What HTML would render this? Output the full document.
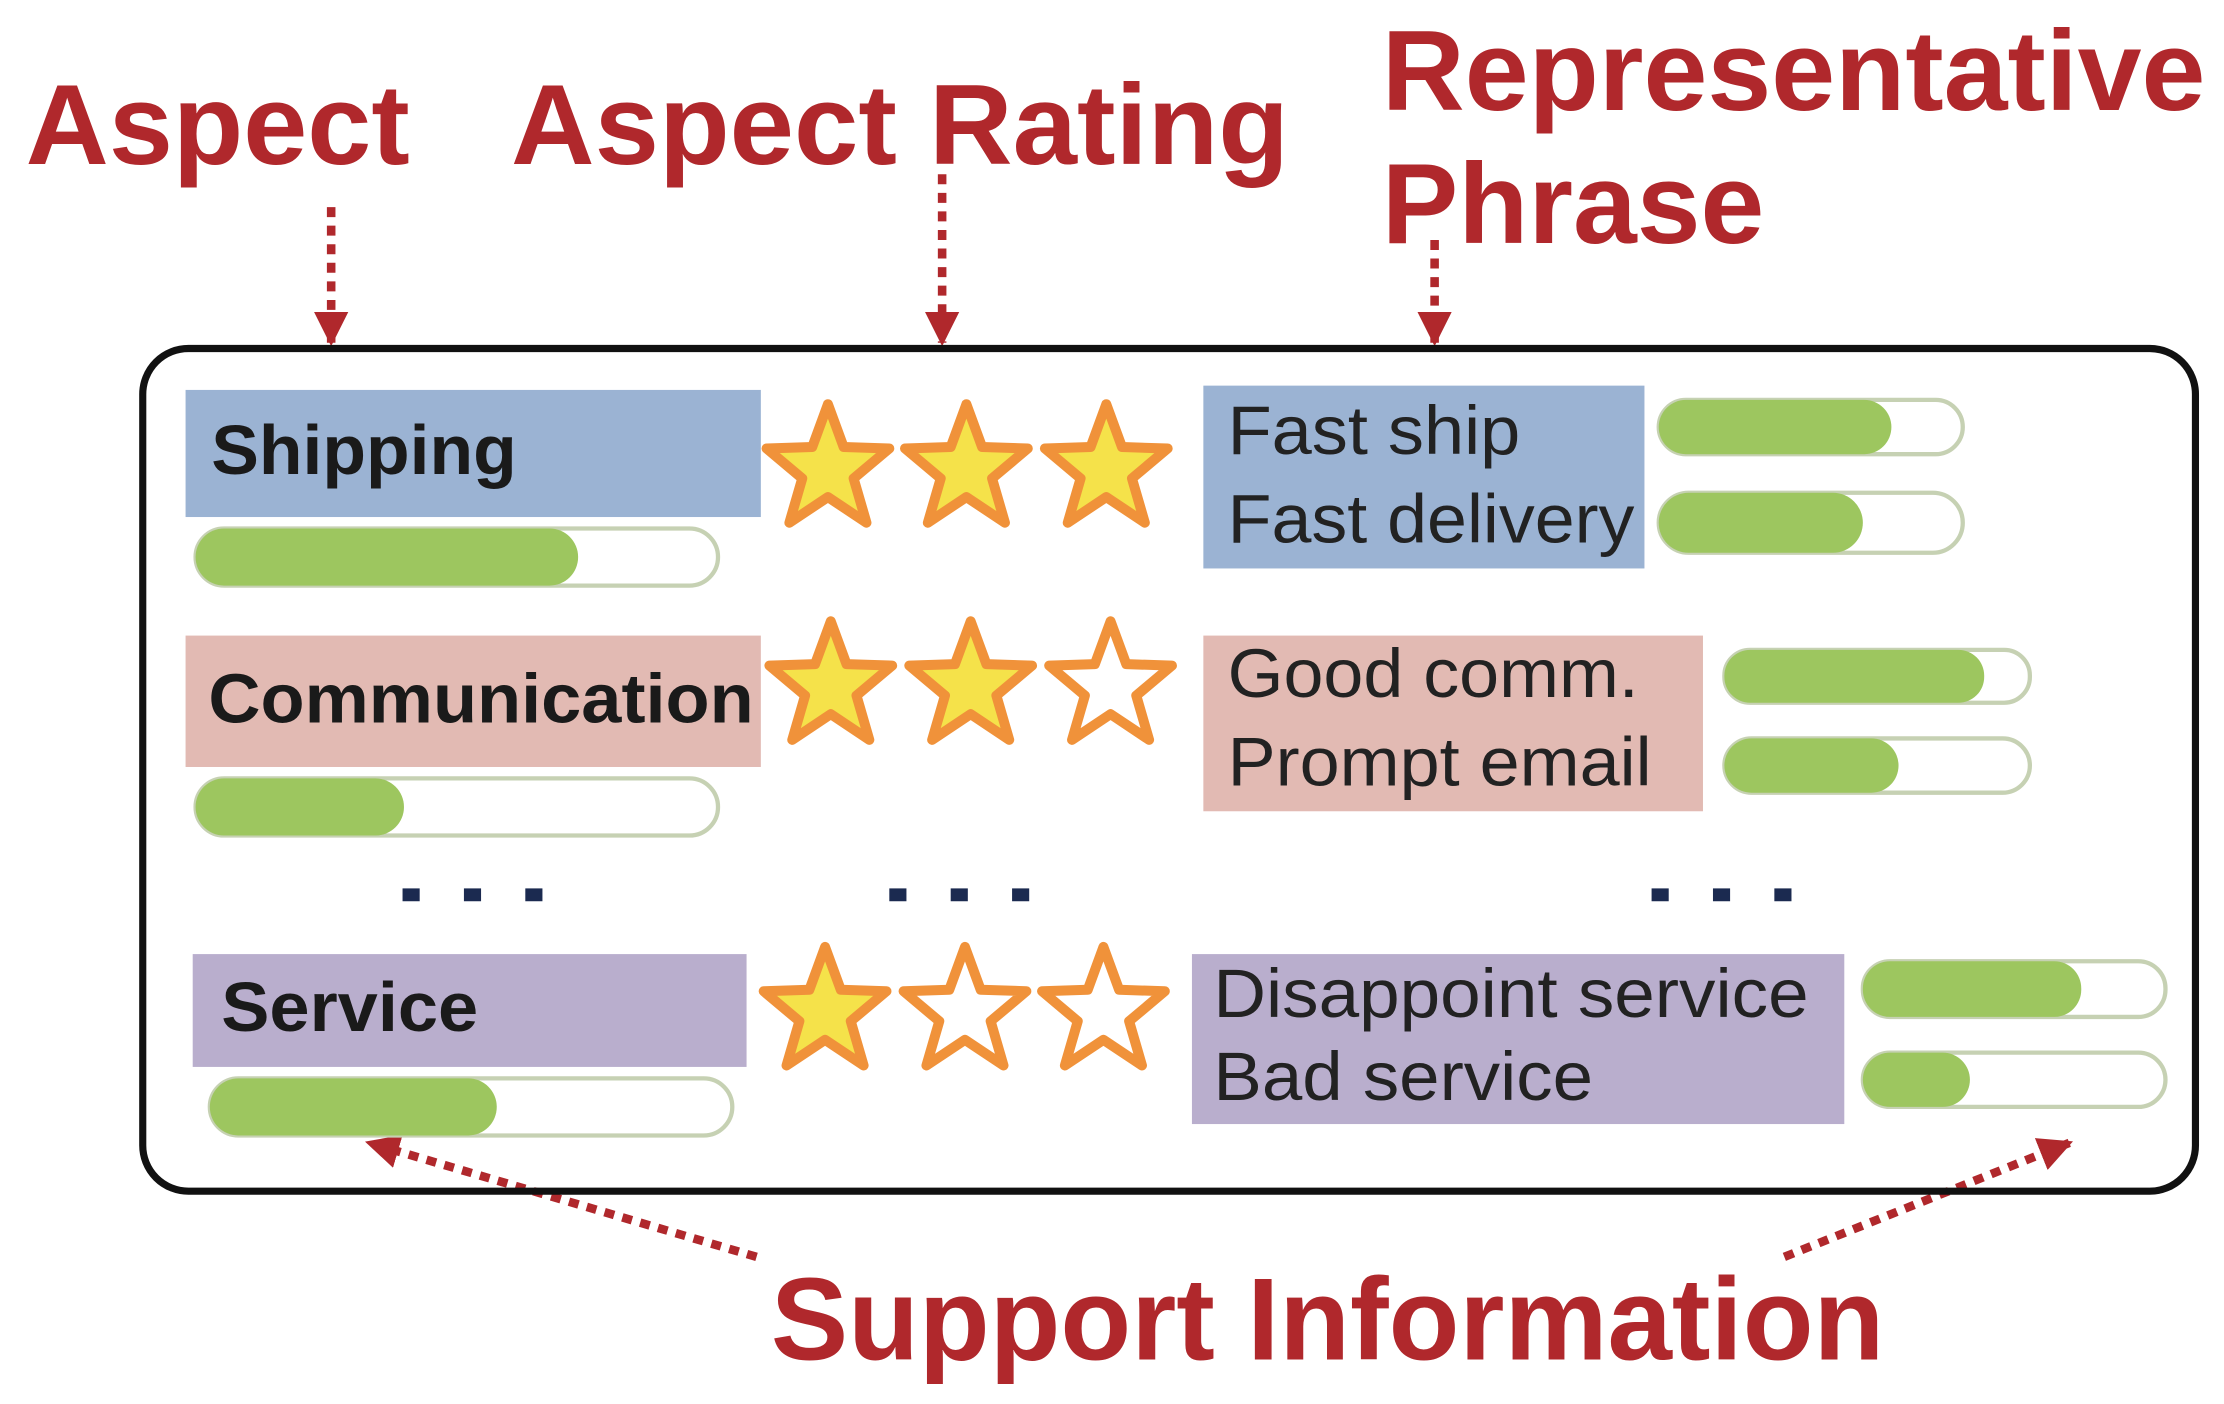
<!DOCTYPE html>
<html><head><meta charset="utf-8"><style>
html,body{margin:0;padding:0;background:#fff;}
svg{display:block;}
text{font-family:"Liberation Sans",Arial,sans-serif;}
.red{fill:#b0282c;font-weight:bold;}
.lbl{font-weight:bold;fill:#1a1a1a;font-size:49px;}
.ph{fill:#222;font-size:48px;}
</style></head><body>
<svg width="2224" height="1404" viewBox="0 0 1558 983" preserveAspectRatio="none" xmlns="http://www.w3.org/2000/svg">
<defs>
<marker id="ah" viewBox="0 0 10 10" refX="9" refY="5" markerWidth="4" markerHeight="4" orient="auto">
<path d="M0,0 L10,5 L0,10 z" fill="#b0282c"/></marker>
<g id="sf"><polygon points="0,-45 11,-15 43,-14 18,7 27,38 0,20 -27,38 -18,7 -43,-14 -11,-15" fill="#f5e24a" stroke="#f0923a" stroke-width="7" stroke-linejoin="round"/></g>
<g id="se"><polygon points="0,-45 11,-15 43,-14 18,7 27,38 0,20 -27,38 -18,7 -43,-14 -11,-15" fill="#fff" stroke="#f0923a" stroke-width="7" stroke-linejoin="round"/></g>
</defs>
<rect width="1558" height="983" fill="#fff"/>
<text class="red" x="18" y="115" font-size="80" textLength="269" lengthAdjust="spacingAndGlyphs">Aspect</text>
<text class="red" x="358" y="115" font-size="80" textLength="545" lengthAdjust="spacingAndGlyphs">Aspect Rating</text>
<text class="red" x="968" y="77" font-size="80" textLength="577" lengthAdjust="spacingAndGlyphs">Representative</text>
<text class="red" x="968" y="170" font-size="80" textLength="268" lengthAdjust="spacingAndGlyphs">Phrase</text>
<g stroke="#b0282c" stroke-width="6" stroke-dasharray="7,6" fill="none" marker-end="url(#ah)">
<line x1="232" y1="145" x2="232" y2="240"/>
<line x1="660" y1="122" x2="660" y2="240"/>
<line x1="1005" y1="168" x2="1005" y2="240"/>
<line x1="530" y1="880" x2="258" y2="800"/>
<line x1="1250" y1="880" x2="1450" y2="800"/>
</g>
<rect x="100" y="244" width="1438" height="590" rx="32" fill="none" stroke="#111" stroke-width="5"/>
<rect x="130" y="273" width="403" height="89" fill="#9bb3d3"/>
<text class="lbl" x="148" y="332" textLength="214" lengthAdjust="spacingAndGlyphs">Shipping</text>
<rect x="137" y="370" width="366" height="40" rx="20" fill="#fff" stroke="#c6d1b3" stroke-width="3"/>
<rect x="137" y="370" width="268" height="40" rx="20" fill="#9dc65f"/>
<use href="#sf" x="580" y="328"/><use href="#sf" x="677" y="328"/><use href="#sf" x="775" y="328"/>
<rect x="843" y="270" width="309" height="128" fill="#9bb3d3"/>
<text class="ph" x="860" y="318" textLength="205" lengthAdjust="spacingAndGlyphs">Fast ship</text>
<text class="ph" x="860" y="380" textLength="285" lengthAdjust="spacingAndGlyphs">Fast delivery</text>
<rect x="1162" y="280" width="213" height="38" rx="19" fill="#fff" stroke="#c6d1b3" stroke-width="3"/>
<rect x="1162" y="280" width="163" height="38" rx="19" fill="#9dc65f"/>
<rect x="1162" y="345" width="213" height="42" rx="21" fill="#fff" stroke="#c6d1b3" stroke-width="3"/>
<rect x="1162" y="345" width="143" height="42" rx="21" fill="#9dc65f"/>
<rect x="130" y="445" width="403" height="92" fill="#e2bab3"/>
<text class="lbl" x="146" y="506" textLength="382" lengthAdjust="spacingAndGlyphs">Communication</text>
<rect x="137" y="545" width="366" height="40" rx="20" fill="#fff" stroke="#c6d1b3" stroke-width="3"/>
<rect x="137" y="545" width="146" height="40" rx="20" fill="#9dc65f"/>
<use href="#sf" x="582" y="480"/><use href="#sf" x="680" y="480"/><use href="#se" x="778" y="480"/>
<rect x="843" y="445" width="350" height="123" fill="#e2bab3"/>
<text class="ph" x="860" y="488" textLength="288" lengthAdjust="spacingAndGlyphs">Good comm.</text>
<text class="ph" x="860" y="550" textLength="297" lengthAdjust="spacingAndGlyphs">Prompt email</text>
<rect x="1208" y="455" width="214" height="37" rx="18" fill="#fff" stroke="#c6d1b3" stroke-width="3"/>
<rect x="1208" y="455" width="182" height="37" rx="18" fill="#9dc65f"/>
<rect x="1208" y="517" width="214" height="38" rx="19" fill="#fff" stroke="#c6d1b3" stroke-width="3"/>
<rect x="1208" y="517" width="122" height="38" rx="19" fill="#9dc65f"/>
<g fill="#1b2a50">
<rect x="282" y="622" width="12" height="9"/><rect x="325" y="622" width="12" height="9"/><rect x="368" y="622" width="12" height="9"/>
<rect x="623" y="622" width="12" height="9"/><rect x="666" y="622" width="12" height="9"/><rect x="709" y="622" width="12" height="9"/>
<rect x="1157" y="622" width="12" height="9"/><rect x="1200" y="622" width="12" height="9"/><rect x="1243" y="622" width="12" height="9"/>
</g>
<rect x="135" y="668" width="388" height="79" fill="#b9aecd"/>
<text class="lbl" x="155" y="722" textLength="180" lengthAdjust="spacingAndGlyphs">Service</text>
<rect x="147" y="755" width="366" height="40" rx="20" fill="#fff" stroke="#c6d1b3" stroke-width="3"/>
<rect x="147" y="755" width="201" height="40" rx="20" fill="#9dc65f"/>
<use href="#sf" x="578" y="708"/><use href="#se" x="676" y="708"/><use href="#se" x="773" y="708"/>
<rect x="835" y="668" width="457" height="119" fill="#b9aecd"/>
<text class="ph" x="850" y="712" textLength="417" lengthAdjust="spacingAndGlyphs">Disappoint service</text>
<text class="ph" x="850" y="770" textLength="266" lengthAdjust="spacingAndGlyphs">Bad service</text>
<rect x="1305" y="673" width="212" height="39" rx="19" fill="#fff" stroke="#c6d1b3" stroke-width="3"/>
<rect x="1305" y="673" width="153" height="39" rx="19" fill="#9dc65f"/>
<rect x="1305" y="737" width="212" height="38" rx="19" fill="#fff" stroke="#c6d1b3" stroke-width="3"/>
<rect x="1305" y="737" width="75" height="38" rx="19" fill="#9dc65f"/>
<text class="red" x="540" y="952" font-size="82" textLength="780" lengthAdjust="spacingAndGlyphs">Support Information</text>
</svg>
</body></html>
